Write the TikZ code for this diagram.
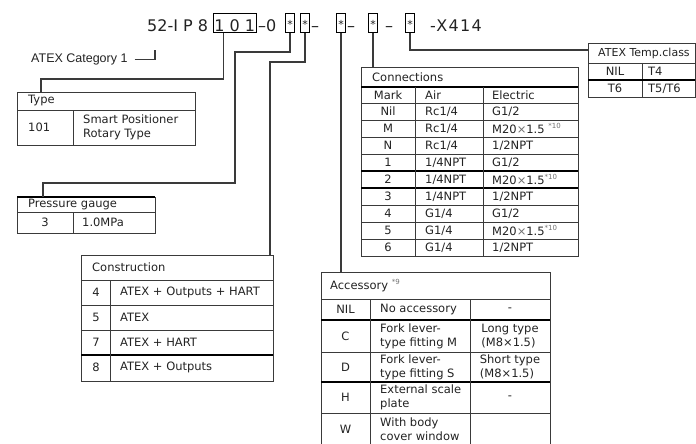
\documentclass[tikz,border=0pt]{standalone}
\usepackage{fontspec}
\setmainfont{DejaVu Sans}
\newfontfamily\catfont{Liberation Sans}
\usetikzlibrary{positioning}
\definecolor{CodeInk}{HTML}{222222}
\definecolor{CodeRule}{HTML}{3A3A3A}
\definecolor{CodeNote}{HTML}{707070}
\newcommand{\tabsize}{\fontsize{11.5}{14}\selectfont}
\newcommand{\headsize}{\fontsize{16}{19}\selectfont}
\newcommand{\notemark}[1]{\raisebox{4.5pt}{\fontsize{7}{7}\selectfont\color{CodeNote}*#1}}
\newcommand{\crs}{{\color{CodeNote}×}}
\newcommand{\wildmark}{\raisebox{3.5pt}{\fontsize{11}{13}\selectfont *}}

\begin{document}
\begin{tikzpicture}[x=1pt,y=-1pt,font=\tabsize,text=CodeInk,
  rule/.style={draw=CodeRule,line width=0.8pt},
  boldrule/.style={draw=black,line width=1.8pt},
  link/.style={draw=CodeRule,line width=1.3pt},
  cell/.style={anchor=west,inner sep=0pt,align=left},
  mid/.style={anchor=center,inner sep=0pt,align=center},
  codebox/.style={draw=black,line width=0.8pt,font=\headsize,inner xsep=1pt,
    inner ysep=1pt,text height=17pt,text depth=0pt,anchor=south},
  codetext/.style={font=\headsize,inner sep=0pt,anchor=base}]
  \useasboundingbox (0,0) rectangle (696,444);
  \clip (0,0) rectangle (696,444);

  % model code
  \node[codetext,anchor=base west] (model) at (147,32) {52-I P 8};
  \node[codebox,anchor=south west,minimum width=42pt] (typ) at (213,33) {1 0 1};
  \node[codetext,anchor=base west] (dashzero) at (258,32) {–0};
  \foreach \x/\n in {290/st1,305/st2,341/st3,373/st4,410/st5}
    \node[codebox,minimum width=9pt,inner xsep=0pt] (\n) at (\x,33) {\wildmark};
  \foreach \x in {315,351,389}
    \node[codetext] (dash\x) at (\x,32) {–};
  \node[codetext,anchor=base west] (suffix) at (430,32)
    {\addfontfeature{LetterSpace=8}-X414};

  % ATEX category
  \node[cell,font=\catfont\fontsize{12.5}{15}\selectfont] (cat) at (31,59.5) {ATEX Category 1};
  \coordinate (catend) at (155,50);
  \draw[link] ([xshift=7pt]cat.east) -| (catend);

  % type
  \draw[rule] (17,92) rectangle (195,145);
  \draw[rule] (17,110) -- (195,110) (73,110) -- (73,145);
  \node[cell] (typehead) at (28,101) {Type};
  \node[cell] (typecode) at (28,127.5) {101};
  \node[cell] (typename) at (83,127.5) {Smart Positioner\\Rotary Type};
  \coordinate (typetop) at (41,92);
  \draw[link] ([xshift=-11pt]typ.south) -- ++(0,46) -| (typetop);

  % pressure gauge
  \draw[rule] (17,197) rectangle (155,233);
  \draw[boldrule] (17,197) -- (155,197);
  \draw[rule] (17,212) -- (155,212) (73,212) -- (73,233);
  \node[cell] (gaugehead) at (28,204.5) {Pressure gauge};
  \node[mid] (gaugecode) at (45,222.5) {3};
  \node[cell] (gaugename) at (82,222.5) {1.0MPa};
  \coordinate (gaugetop) at (43,197);
  \draw[link] (st1.south) |- (235,52) -- (235,183) -| (gaugetop);

  % construction
  \draw[rule] (81,255) rectangle (273,381);
  \foreach \y in {280,305,330} \draw[rule] (81,\y) -- (273,\y);
  \draw[boldrule] (81,355) -- (273,355);
  \draw[rule] (110,280) -- (110,381);
  \node[cell] (constrhead) at (92,267.5) {Construction};
  \foreach \m/\t [count=\i] in {4/ATEX + Outputs + HART,5/ATEX,7/ATEX + HART,8/ATEX + Outputs}{
    \node[mid] (cm\i) at (96,267.5+25*\i) {\m};
    \node[cell] (ct\i) at (120,267.5+25*\i) {\t};
  }
  \coordinate (constrtop) at (270,255);
  \draw[link] (st2.south) |- (270,62) -- (constrtop);

  % connections
  \draw[rule] (361,67) rectangle (578,256);
  \draw[boldrule] (361,87) -- (578,87);
  \foreach \i in {0,...,8} \draw[rule] (361,103+17*\i) -- (578,103+17*\i);
  \draw[boldrule] (361,171) -- (578,171) (361,188) -- (578,188);
  \draw[rule] (415,87) -- (415,256) (483,87) -- (483,256);
  \node[cell] (connhead) at (372,77) {Connections};
  \node[mid] (connmark) at (388,95) {Mark};
  \node[cell] (connair) at (425,95) {Air};
  \node[cell] (connelec) at (492,95) {Electric};
  \foreach \m/\a/\e [count=\i] in {Nil/{Rc1/4}/{G1/2},M/{Rc1/4}/{M20\crs1.5 \notemark{10}},
      N/{Rc1/4}/{1/2NPT},1/{1/4NPT}/{G1/2},2/{1/4NPT}/{M20\crs1.5\notemark{10}},
      3/{1/4NPT}/{1/2NPT},4/{G1/4}/{G1/2},5/{G1/4}/{M20\crs1.5\notemark{10}},6/{G1/4}/{1/2NPT}}{
    \node[mid] (km\i) at (388,94.5+17*\i) {\m};
    \node[cell] (ka\i) at (425,94.5+17*\i) {\a};
    \node[cell] (ke\i) at (492,94.5+17*\i) {\e};
  }
  \coordinate (conntop) at (373,67);
  \draw[link] (st4.south) -- (st4.south |- conntop);

  % accessory
  \draw[rule] (321,272) rectangle (550,460);
  \draw[rule] (321,299) -- (550,299) (321,352) -- (550,352) (321,413) -- (550,413);
  \draw[boldrule] (321,320) -- (550,320) (321,382) -- (550,382);
  \draw[rule] (370,299) -- (370,460) (470,299) -- (470,460);
  \node[cell] (acchead) at (330,285.5) {Accessory \notemark{9}};
  \foreach \y/\m/\d/\v [count=\i] in {309.5/NIL/No accessory/-,
      336/C/{Fork lever-\\type fitting M}/{Long type\\(M8×1.5)},
      367/D/{Fork lever-\\type fitting S}/{Short type\\(M8×1.5)},
      397.5/H/{External scale\\plate}/-,
      429/W/{With body\\cover window}/{}}{
    \node[mid] (am\i) at (345.5,\y) {\m};
    \node[cell] (ad\i) at (380,\y) {\d};
    \node[mid,align=left] (av\i) at (510,\y) {\v};
  }
  \coordinate (acctop) at (341,272);
  \draw[link] (st3.south) -- (st3.south |- acctop);

  % temperature class
  \draw[rule] (588,43) rectangle (695,97);
  \draw[rule] (588,63) -- (695,63) (642,63) -- (642,97);
  \draw[boldrule] (588,80) -- (695,80);
  \node[cell,font=\fontsize{11}{13}\selectfont] (temphead) at (598,53) {ATEX Temp.class};
  \node[mid] (tempnil) at (615,71.5) {NIL};
  \node[cell] (tempfour) at (648,71.5) {T4};
  \node[mid] (tempsix) at (615,88.5) {T6};
  \node[cell] (tempfive) at (648,88.5) {T5/T6};
  \coordinate (tempside) at (588,50);
  \draw[link] (st5.south) |- (tempside);
\end{tikzpicture}
\end{document}
